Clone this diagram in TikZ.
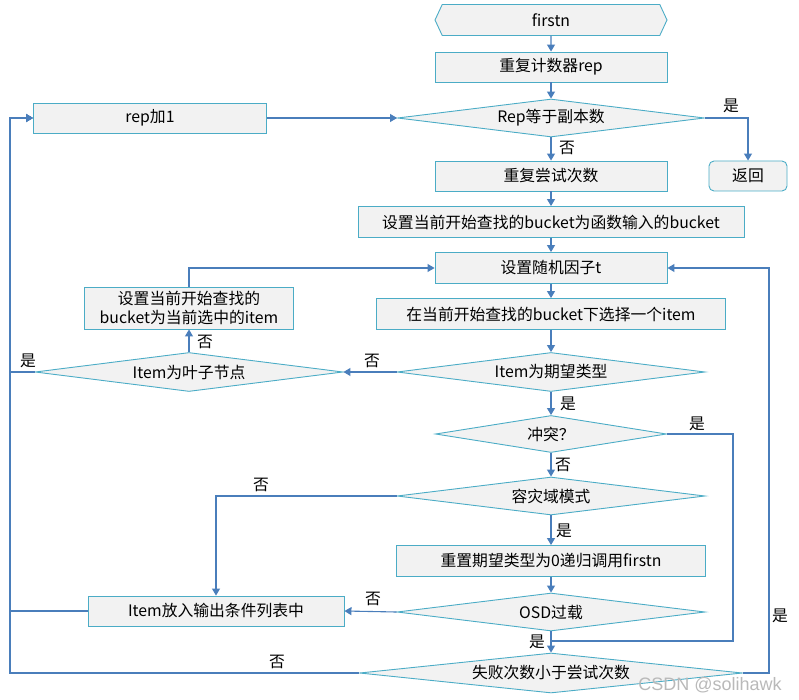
\documentclass[tikz,border=0pt]{standalone}
\usepackage{fontspec}
\setmainfont{Noto Sans CJK SC}
\newfontfamily\wmfont{Liberation Sans}
\usetikzlibrary{shapes.geometric,shapes.symbols,arrows.meta}
\definecolor{bordc}{RGB}{75,172,198}
\definecolor{linec}{RGB}{74,126,187}
\definecolor{fillc}{RGB}{242,242,242}
\tikzset{
  every node/.style={font=\fontsize{15.8}{19}\selectfont, inner sep=0pt},
  procbox/.style={draw=bordc, fill=fillc, line width=0.9pt, rectangle, align=center},
  decis/.style={draw=bordc, fill=fillc, line width=0.9pt, diamond, shape aspect=10},
  startbox/.style={draw=bordc, fill=fillc, line width=0.9pt, signal, signal to=west and east, signal pointer angle=130},
  endbox/.style={draw=bordc, fill=fillc, line width=0.9pt, rectangle, rounded corners=5pt},
  arr/.style={draw=linec, line width=1.1pt, -{Triangle[length=7pt,width=8pt]}},
  ln/.style={draw=linec, line width=1.1pt},
  lbl/.style={text=black}
}
\begin{document}
\begin{tikzpicture}[x=1pt,y=-1pt]
\useasboundingbox (0,0) rectangle (799,700);
% nodes
\node[startbox, minimum width=232, minimum height=31] (first) at (551,20) {firstn};
\node[procbox, minimum width=232, minimum height=30] (cnt) at (551,67) {重复计数器rep};
\node[decis, minimum width=307, minimum height=38] (repeq) at (551,118) {Rep等于副本数};
\node[endbox, minimum width=78, minimum height=30] (ret) at (748,176) {返回};
\node[procbox, minimum width=233, minimum height=30] (rep1) at (150,118) {rep加1};
\node[procbox, minimum width=232, minimum height=30] (tries) at (551,176) {重复尝试次数};
\node[procbox, minimum width=386, minimum height=31] (setin) at (551,222) {设置当前开始查找的bucket为函数输入的bucket};
\node[procbox, minimum width=232, minimum height=31] (rand) at (551,268) {设置随机因子t};
\node[procbox, minimum width=349, minimum height=31] (sel) at (551,314) {在当前开始查找的bucket下选择一个item};
\node[decis, minimum width=308, minimum height=39] (etype) at (551,372) {Item为期望类型};
\node[decis, minimum width=308, minimum height=39] (leaf) at (189,372) {Item为叶子节点};
\node[procbox, minimum width=209, minimum height=42] (setcur) at (189,308) {设置当前开始查找的\\bucket为当前选中的item};
\node[decis, minimum width=231, minimum height=37] (conf) at (551,434) {冲突？};
\node[decis, minimum width=308, minimum height=38] (dz) at (551,496) {容灾域模式};
\node[procbox, minimum width=309, minimum height=31] (reset) at (551,561) {重置期望类型为0递归调用firstn};
\node[decis, minimum width=308, minimum height=38] (osd) at (551,612) {OSD过载};
\node[procbox, minimum width=256, minimum height=30] (put) at (216,611) {Item放入输出条件列表中};
\node[decis, minimum width=383, minimum height=40] (fail) at (551,673) {失败次数小于尝试次数};
\coordinate (j1) at (551,641);
% connectors
\draw[arr] (first) -- (cnt);
\draw[arr] (cnt) -- (repeq);
\draw[arr] (repeq.east) -| (ret.north);
\draw[arr] (repeq) -- (tries);
\draw[arr] (tries) -- (setin);
\draw[arr] (setin) -- (rand);
\draw[arr] (rand) -- (sel);
\draw[arr] (sel) -- (etype);
\draw[arr] (rep1.east) -- (repeq.west);
\draw[arr] (etype.west) -- (leaf.east);
\draw[arr] (leaf.north) -- (setcur.south);
\draw[arr] (setcur.north) |- (rand.west);
\draw[arr] (leaf.west) -- (10,372) |- (rep1.west);
\draw[arr] (etype) -- (conf);
\draw[ln] (conf.east) -| (733,641) -- (j1);
\draw[arr] (conf) -- (dz);
\draw[arr] (dz.west) -| (put.north);
\draw[arr] (dz) -- (reset);
\draw[arr] (reset) -- (osd);
\draw[arr] (osd.west) -- (put.east);
\draw[arr] (put.west) -- (10,611) |- (rep1.west);
\draw[arr] (osd) -- (fail);
\draw[arr] (fail.west) -- (10,673) |- (rep1.west);
\draw[arr] (fail.east) -- (769,673) |- (rand.east);
% labels
\node[lbl] (l1) at (731,106) {是};
\node[lbl] (l2) at (567,148) {否};
\node[lbl] (l3) at (372,361) {否};
\node[lbl] (l4) at (205,342) {否};
\node[lbl] (l5) at (28,361) {是};
\node[lbl] (l6) at (568,404) {是};
\node[lbl] (l7) at (697,424) {是};
\node[lbl] (l8) at (563,465) {否};
\node[lbl] (l9) at (261,485) {否};
\node[lbl] (l10) at (564,531) {是};
\node[lbl] (l11) at (373,599) {否};
\node[lbl] (l12) at (537,642) {是};
\node[lbl] (l13) at (277,662) {否};
\node[lbl] (l14) at (780,616) {是};
\node[text=gray!55, font=\wmfont\fontsize{18}{21}\selectfont] (wm) at (710,685) {CSDN @solihawk};
\end{tikzpicture}
\end{document}
